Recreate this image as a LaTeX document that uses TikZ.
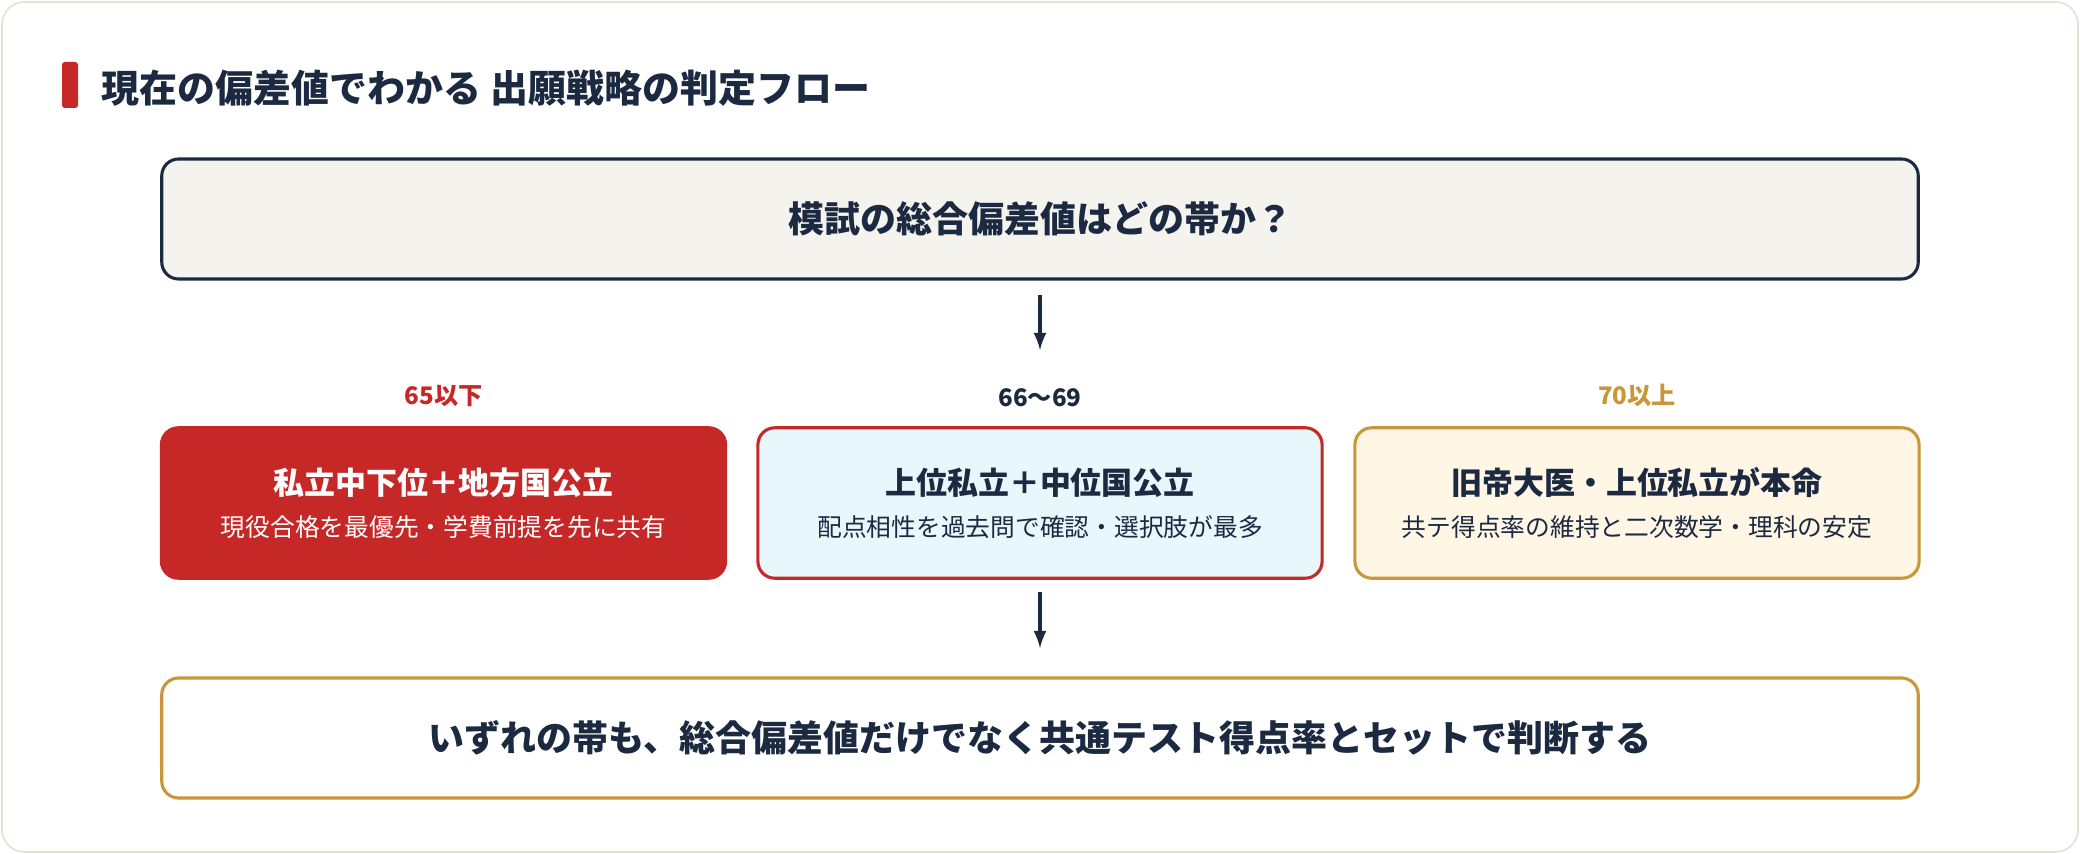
\documentclass[tikz,border=0pt]{standalone}
\usepackage{fontspec}
\setmainfont{Noto Sans CJK JP}
\usetikzlibrary{positioning}
\definecolor{navy}{HTML}{1B2A41}
\definecolor{accred}{HTML}{C62828}
\definecolor{gold}{HTML}{C9963A}
\definecolor{cream}{HTML}{F5F3EE}
\definecolor{paleblue}{HTML}{E8F7FC}
\definecolor{paleorange}{HTML}{FFF6E5}
\definecolor{frame}{HTML}{E4E0D2}
\tikzset{
  box/.style={draw=navy,line width=1.1pt,rounded corners=6pt,minimum height=1.5cm,text=navy,align=center},
  band/.style={box,minimum width=7.05cm,minimum height=1.88cm},
  tag/.style={font=\bfseries\fontsize{8.6}{10}\selectfont},
  flow/.style={-latex,line width=1.1pt,draw=navy}
}
\begin{document}
\begin{tikzpicture}[x=0.0125cm,y=-0.0125cm]
    % Frame and title
    \draw[frame,fill=white,rounded corners=8pt,line width=0.6pt] (2,2) rectangle (2078,852);
    \useasboundingbox (0,0) rectangle (2080,854);
    \fill[accred,rounded corners=1pt] (62,62) rectangle (78,108);
    \node[anchor=west,text=navy,font=\bfseries\fontsize{13.5}{16}\selectfont] (title) at (92,88) {現在の偏差値でわかる 出願戦略の判定フロー};
    % Place nodes
    \node[box,fill=cream,minimum width=21.95cm,font=\bfseries\fontsize{12.8}{15}\selectfont] (q) at (1040,219) {模試の総合偏差値はどの帯か？};
    \node[band,draw=accred,fill=accred,text=white] (low) at (443.5,503) {{\bfseries\fontsize{11}{13}\selectfont 私立中下位＋地方国公立}\\[3pt]{\fontsize{8.8}{11}\selectfont 現役合格を最優先・学費前提を先に共有}};
    \node[band,draw=accred,fill=paleblue] (mid) at (1040,503) {{\bfseries\fontsize{11}{13}\selectfont 上位私立＋中位国公立}\\[3pt]{\fontsize{8.8}{11}\selectfont 配点相性を過去問で確認・選択肢が最多}};
    \node[band,draw=gold,fill=paleorange] (high) at (1637,503) {{\bfseries\fontsize{11}{13}\selectfont 旧帝大医・上位私立が本命}\\[3pt]{\fontsize{8.8}{11}\selectfont 共テ得点率の維持と二次数学・理科の安定}};
    \node[tag,text=accred,above=0.12cm of low] (tlow) {65以下};
    \node[tag,text=navy,above=0.12cm of mid] (tmid) {66〜69};
    \node[tag,text=gold,above=0.12cm of high] (thigh) {70以上};
    \node[box,draw=gold,fill=white,minimum width=21.95cm,font=\bfseries\fontsize{12.8}{15}\selectfont] (all) at (1040,738) {いずれの帯も、総合偏差値だけでなく共通テスト得点率とセットで判断する};
    % Arrows
    \coordinate (a1) at (1040,295);
    \coordinate (a2) at (1040,350);
    \coordinate (b1) at (1040,592);
    \coordinate (b2) at (1040,648);
    \draw[flow] (a1) -- (a2);
    \draw[flow] (b1) -- (b2);
\end{tikzpicture}
\end{document}
